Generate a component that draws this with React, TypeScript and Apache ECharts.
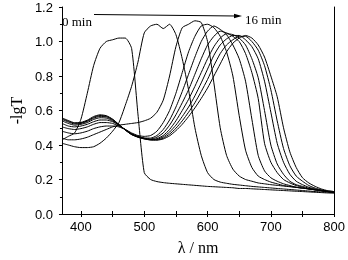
import React, { useEffect, useRef } from 'react';
import * as echarts from 'echarts';

const wavelengths = [370,380,390,400,410,420,430,440,450,460,470,480,490,500,510,520,530,540,550,560,570,580,590,600,610,620,630,640,650,660,670,680,690,700,710,720,730,740,750,760,770,780,790,800];

const curve0 = [0.43,0.45,0.47,0.55,0.70,0.86,0.96,1.00,1.01,1.02, 1.02,0.96,0.58,0.24,0.20,0.188,0.182,0.178,0.175,0.172, 0.169,0.166,0.163,0.160,0.158,0.156,0.154,0.152,0.148,0.148, 0.146,0.144,0.142,0.140,0.138,0.136,0.134,0.132,0.130,0.128, 0.126,0.124,0.122,0.120];
const curve1 = [0.41,0.40,0.39,0.385,0.385,0.39,0.41,0.44,0.48,0.53, 0.63,0.74,0.88,1.05,1.09,1.10,1.075,1.10,1.04,0.90, 0.72,0.50,0.34,0.24,0.20,0.185,0.178,0.172,0.168,0.164, 0.160,0.157,0.154,0.151,0.148,0.145,0.142,0.139,0.136,0.133, 0.130,0.128,0.126,0.124];
const curve2 = [0.44,0.43,0.43,0.435,0.445,0.46,0.475,0.49,0.505,0.515, 0.52,0.525,0.53,0.54,0.555,0.59,0.66,0.80,0.97,1.08, 1.10,1.12,1.11,1.00,0.76,0.50,0.34,0.26,0.22,0.20, 0.19,0.18,0.175,0.17,0.166,0.162,0.158,0.154,0.150,0.146, 0.142,0.138,0.134,0.130];
const curve3 = [0.48,0.47,0.465,0.47,0.48,0.495,0.505,0.51,0.51,0.505, 0.49,0.47,0.455,0.45,0.455,0.48,0.53,0.60,0.70,0.82, 0.94,1.03,1.09,1.10,1.08,1.03,0.94,0.80,0.57,0.37, 0.27,0.22,0.20,0.185,0.175,0.165,0.16,0.155,0.15,0.145, 0.14,0.135,0.13,0.125];
const curve4 = [0.505,0.495,0.49,0.495,0.505,0.52,0.53,0.53,0.525,0.51, 0.49,0.465,0.45,0.44,0.44,0.455,0.49,0.545,0.62,0.71, 0.81,0.91,1.00,1.06,1.09,1.07,1.04,0.98,0.90,0.77, 0.55,0.34,0.25,0.21,0.19,0.175,0.165,0.155,0.15,0.145, 0.14,0.135,0.13,0.125];
const curve5 = [0.525,0.51,0.505,0.51,0.52,0.535,0.545,0.545,0.535,0.515, 0.49,0.465,0.45,0.44,0.435,0.445,0.47,0.515,0.575,0.645, 0.72,0.81,0.90,0.98,1.03,1.06,1.05,1.03,1.00,0.93, 0.82,0.67,0.41,0.30,0.24,0.20,0.18,0.165,0.155,0.145, 0.14,0.135,0.13,0.125];
const curve6 = [0.54,0.525,0.515,0.52,0.53,0.548,0.558,0.556,0.54,0.515, 0.488,0.463,0.448,0.438,0.432,0.437,0.455,0.49,0.54,0.60, 0.665,0.74,0.82,0.90,0.97,1.02,1.045,1.04,1.02,0.98, 0.90,0.79,0.60,0.40,0.29,0.23,0.19,0.17,0.16,0.15, 0.14,0.135,0.13,0.125];
const curve7 = [0.548,0.533,0.522,0.525,0.537,0.555,0.566,0.563,0.545,0.517, 0.487,0.462,0.447,0.437,0.431,0.433,0.447,0.475,0.515,0.565, 0.62,0.685,0.76,0.84,0.92,0.98,1.015,1.035,1.035,1.01, 0.97,0.90,0.77,0.59,0.41,0.30,0.23,0.19,0.17,0.155, 0.145,0.135,0.13,0.125];
const curve8 = [0.553,0.538,0.526,0.528,0.54,0.56,0.571,0.567,0.548,0.518, 0.487,0.461,0.446,0.436,0.43,0.43,0.44,0.463,0.497,0.54, 0.59,0.645,0.71,0.78,0.86,0.93,0.98,1.01,1.03,1.03, 1.00,0.95,0.86,0.72,0.54,0.38,0.28,0.22,0.19,0.165, 0.15,0.14,0.13,0.125];
const curve9 = [0.557,0.542,0.529,0.531,0.544,0.565,0.575,0.57,0.55,0.519, 0.487,0.46,0.445,0.435,0.429,0.428,0.435,0.453,0.483,0.52, 0.565,0.615,0.67,0.73,0.80,0.87,0.94,0.99,1.02,1.035, 1.02,0.98,0.91,0.80,0.68,0.50,0.36,0.27,0.21,0.18, 0.16,0.145,0.135,0.13];

const xTickValues = [400,450,500,550,600,650,700,750,800];
const xLabelValues = [400,500,600,700,800];
const startLabel = '0 min';
const endLabel = '16 min';

export default function App() {
  const ref = useRef<HTMLDivElement>(null);
  useEffect(() => {
    const chart = echarts.init(ref.current!, null, { renderer: 'svg' });
    const curves = [curve0, curve1, curve2, curve3, curve4, curve5, curve6, curve7, curve8, curve9];
    const sans = 'Liberation Sans';
    const serif = 'Liberation Serif';
    const axisLine = { show: true, lineStyle: { color: '#000', width: 1 } };
    chart.setOption({
      animation: false,
      textStyle: { fontFamily: sans },
      grid: { left: 48, right: 12, top: 7, bottom: 40 },
      xAxis: [
        {
          type: 'value', min: 370, max: 800, position: 'bottom',
          axisLine,
          axisTick: { show: true, customValues: xTickValues, length: 3, lineStyle: { color: '#000' } },
          axisLabel: { customValues: xLabelValues, fontSize: 13, color: '#000', fontFamily: sans, margin: 6 },
          splitLine: { show: false },
          name: 'λ / nm', nameLocation: 'middle', nameGap: 25,
          nameTextStyle: { fontFamily: serif, fontSize: 16, color: '#000' },
        },
        {
          type: 'value', min: 370, max: 800, position: 'top',
          axisLine,
          axisTick: { show: true, customValues: xTickValues, length: 3, lineStyle: { color: '#000' } },
          axisLabel: { show: false },
          splitLine: { show: false },
        },
      ],
      yAxis: [
        {
          type: 'value', min: 0, max: 1.2, interval: 0.2,
          axisLine,
          axisTick: { show: true, length: 3, lineStyle: { color: '#000' } },
          minorTick: { show: true, splitNumber: 2, length: 2, lineStyle: { color: '#000' } },
          axisLabel: { fontSize: 13, color: '#000', fontFamily: sans, margin: 9, formatter: (v: number) => v.toFixed(1) },
          splitLine: { show: false },
          name: '-lgT', nameLocation: 'middle', nameGap: 27, nameRotate: 90,
          nameTextStyle: { fontFamily: serif, fontSize: 16, color: '#000' },
        },
        {
          type: 'value', min: 0, max: 1.2, position: 'right',
          axisLine,
          axisTick: { show: false },
          axisLabel: { show: false },
          splitLine: { show: false },
        },
      ],
      series: curves.map((c) => ({
        type: 'line',
        xAxisIndex: 0,
        yAxisIndex: 0,
        data: wavelengths.map((w, i) => [w, c[i]]),
        showSymbol: false,
        symbol: 'none',
        smooth: 0.2,
        silent: true,
        lineStyle: { color: '#000', width: 1 },
      })),
      graphic: [
        { type: 'text', left: 62, top: 15, style: { text: startLabel, fontFamily: serif, fontSize: 13, fill: '#000' } },
        { type: 'line', shape: { x1: 94, y1: 14.5, x2: 236, y2: 16 }, style: { stroke: '#000', lineWidth: 1 } },
        { type: 'polygon', shape: { points: [[242, 16], [234, 13.8], [234, 18.2]] }, style: { fill: '#000' } },
        { type: 'text', left: 245, top: 13, style: { text: endLabel, fontFamily: serif, fontSize: 13, fill: '#000' } },
      ],
    });
    return () => chart.dispose();
  }, []);
  return <div ref={ref} style={{ position: 'fixed', left: 0, top: 0, width: 348, height: 260 }} />;
}
